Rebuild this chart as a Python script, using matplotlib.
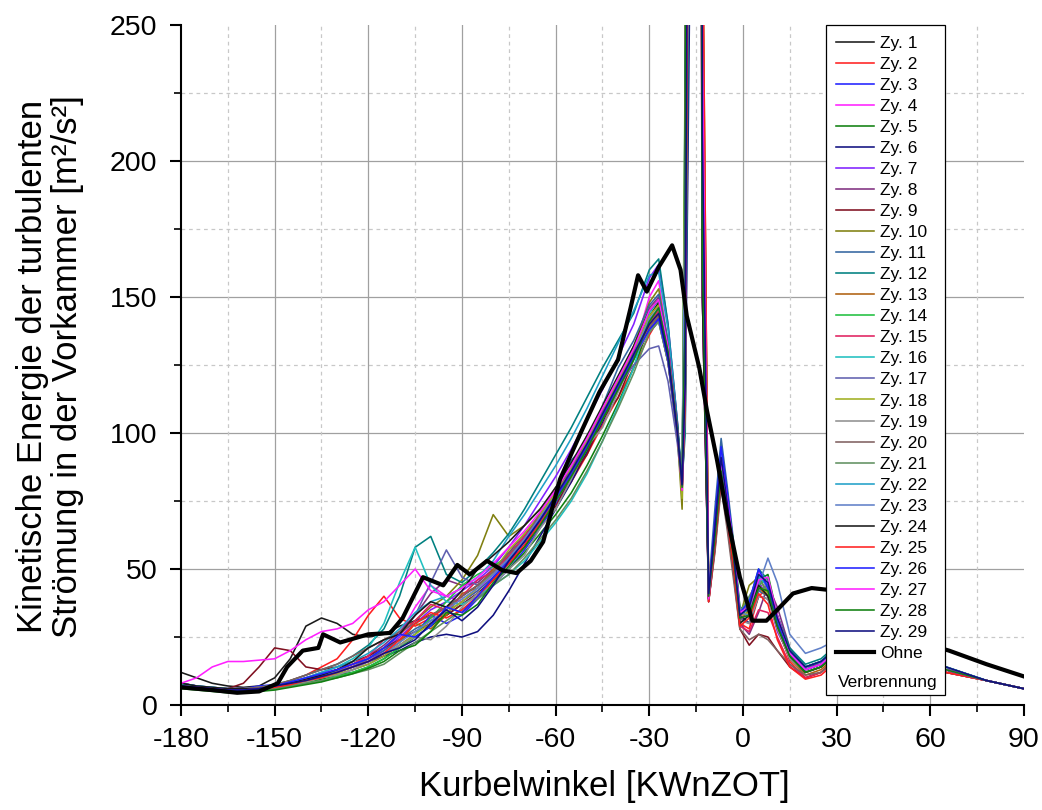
import matplotlib
matplotlib.use('Agg')
import matplotlib.pyplot as plt
from matplotlib.ticker import MultipleLocator
from matplotlib.patches import Rectangle

plt.rcParams['font.family'] = ['Liberation Sans', 'DejaVu Sans']
plt.rcParams['axes.unicode_minus'] = False

# crank angle grid shared by all cycles
kw = [-180, -175, -170, -165, -160, -155, -150, -145, -140, -135, -130,
      -125, -120, -115, -110, -105, -100, -95, -90, -85, -80,
      -75, -70, -65, -60, -55, -50, -45, -40, -35, -30,
      -27, -24, -21, -19.5, -18.5, -17, -14, -13,
      -11, -9, -7, -5, -3, -1, 2, 5, 8,
      11, 15, 20, 25, 30, 40, 50, 65, 78, 90]

zy01 = [12, 10, 8, 7, 6.5, 7, 10, 17, 29, 32, 30,  26, 25, 26, 29, 31, 33, 36, 40, 44, 49,  55, 62, 70, 78, 87, 97, 108, 119, 130, 143,  148, 131, 102, 80, 128, 1500, 1500, 150,  40, 60, 86, 70, 55, 33, 30, 45, 40,  28, 17, 12, 14, 19, 23, 19, 13, 9, 6]
zy02 = [7, 6, 6, 5.5, 5, 6, 7, 9, 11, 14, 17,  24, 33, 40, 32, 29, 32, 36, 34, 39, 46,  53, 58, 66, 74, 82, 92, 103, 113, 124, 136,  142, 128, 101, 80, 110, 400, 1200, 200,  38, 58, 85, 68, 52, 30, 28, 40, 43,  30, 16, 10, 12, 18, 22, 18, 12, 9, 6]
zy03 = [8, 7, 6, 6, 6, 7, 7.5, 8, 9, 10, 11,  13, 15, 18, 22, 26, 33, 30, 33, 39, 44,  50, 57, 65, 74, 83, 94, 106, 118, 129, 141,  146, 130, 100, 81, 200, 280, 600, 160,  40, 64, 90, 74, 58, 34, 36, 48, 44,  31, 19, 14, 16, 20, 24, 20, 13, 9, 6]
zy04 = [7, 6.5, 6, 6, 5.5, 6, 7, 8, 10, 12, 13,  15, 17, 20, 26, 36, 44, 40, 38, 42, 48,  54, 61, 69, 77, 86, 96, 107, 118, 130, 150,  156, 133, 101, 78, 120, 500, 1500, 260,  39, 60, 92, 76, 57, 31, 38, 49, 42,  30, 19, 13, 15, 20, 24, 20, 13, 9, 6]
zy05 = [6, 5.5, 5, 4.5, 4.5, 5, 6, 7, 8, 9.5, 11,  12, 14, 17, 21, 25, 29, 33, 37, 41, 46,  50, 56, 63, 70, 78, 88, 99, 111, 124, 139,  143, 127, 99, 80, 150, 1500, 800, 180,  41, 66, 92, 75, 56, 33, 37, 46, 48,  33, 20, 14, 16, 21, 25, 21, 13, 9, 6]
zy06 = [7, 6, 5.5, 5, 5, 5.5, 6.5, 7.5, 9, 10, 12,  14, 16, 18, 20, 23, 25, 26, 25, 27, 33,  42, 52, 62, 72, 82, 93, 104, 116, 128, 137,  141, 126, 98, 81, 105, 270, 1500, 230,  40, 64, 88, 73, 56, 33, 30, 40, 39,  29, 18, 13, 15, 19, 23, 19, 13, 9, 6]
zy07 = [8, 7, 6.5, 6, 6, 6.5, 7, 8, 10, 11, 12,  14, 16, 20, 25, 30, 35, 38, 42, 46, 51,  58, 66, 75, 84, 94, 105, 116, 128, 140, 157,  162, 140, 104, 79, 135, 1200, 500, 150,  40, 62, 87, 71, 54, 32, 33, 45, 40,  27, 18, 12, 14, 19, 23, 19, 13, 9, 6]
zy08 = [8, 7, 6, 6, 6, 6, 7, 8, 9, 11, 13,  15, 18, 22, 27, 33, 41, 46, 44, 45, 50,  56, 63, 70, 78, 87, 97, 108, 119, 131, 146,  150, 133, 103, 80, 230, 300, 1500, 280,  39, 58, 84, 67, 50, 30, 26, 34, 44,  36, 21, 14, 15, 19, 23, 19, 13, 9, 6]
zy09 = [7, 6, 6, 6, 8, 14, 21, 20, 14, 13, 14,  16, 18, 21, 24, 27, 30, 33, 37, 41, 46,  52, 58, 68, 73, 84, 92, 105, 113, 127, 138,  142, 126, 99, 80, 115, 450, 900, 170,  38, 57, 82, 66, 48, 28, 22, 26, 25,  20, 14, 10, 12, 17, 21, 18, 12, 9, 6]
zy10 = [7, 6, 5.5, 5, 5, 5.5, 6.5, 7.5, 9, 10.5, 12,  14, 17, 21, 26, 31, 36, 40, 46, 55, 70,  62, 66, 72, 79, 87, 97, 108, 120, 132, 148,  153, 133, 99, 72, 130, 1500, 1500, 240,  41, 63, 89, 72, 55, 33, 44, 47, 41,  30, 19, 13, 15, 20, 24, 20, 13, 9, 6]
zy11 = [7, 6.5, 6, 5.5, 5, 5.5, 6.5, 8, 9.5, 11, 13,  15, 17, 20, 24, 28, 31, 34, 38, 42, 47,  53, 62, 66, 78, 90, 96, 110, 124, 134, 147,  151, 134, 103, 81, 210, 290, 700, 190,  43, 72, 98, 80, 60, 36, 34, 42, 40,  31, 20, 14, 16, 21, 25, 21, 14, 9, 6]
zy12 = [8, 7, 6.5, 6, 6, 6.5, 7.5, 9, 11, 13, 15,  18, 22, 28, 40, 58, 62, 48, 45, 50, 56,  63, 72, 82, 92, 102, 113, 124, 134, 144, 160,  164, 140, 104, 82, 100, 320, 1500, 160,  42, 66, 92, 76, 58, 35, 38, 50, 46,  33, 21, 15, 17, 22, 26, 21, 14, 9, 6]
zy13 = [7, 6.5, 6, 5.5, 5.5, 6, 7, 8, 9.5, 11, 12.5,  14, 16, 19, 23, 30, 28, 33, 41, 43, 50,  54, 61, 69, 77, 86, 96, 107, 118, 129, 143,  147, 131, 102, 78, 155, 1500, 1000, 300,  39, 60, 86, 70, 53, 31, 35, 43, 40,  28, 17, 11, 13, 18, 22, 19, 13, 9, 6]
zy14 = [6.5, 6, 5.5, 5, 5, 5.5, 6, 7, 8, 9, 10.5,  12, 14, 17, 21, 26, 32, 38, 44, 48, 51,  55, 60, 67, 75, 84, 94, 105, 116, 127, 140,  145, 129, 100, 79, 240, 260, 1500, 210,  40, 65, 94, 77, 59, 36, 32, 44, 47,  32, 20, 14, 16, 21, 25, 21, 14, 9, 6]
zy15 = [7, 6.5, 6, 6, 6, 6.5, 7, 8, 9.5, 11, 13,  15, 18, 24, 26, 31, 37, 35, 40, 46, 49,  55, 62, 69, 77, 86, 96, 106, 117, 128, 141,  145, 129, 101, 80, 130, 800, 450, 150,  38, 58, 84, 68, 51, 29, 27, 35, 34,  25, 15, 10, 12, 17, 21, 18, 12, 9, 6]
zy16 = [7.5, 7, 6.5, 6, 6, 6.5, 7, 8.5, 10, 12, 14,  17, 21, 30, 45, 58, 44, 38, 37, 40, 44,  48, 53, 60, 67, 75, 85, 97, 110, 124, 144,  149, 132, 101, 80, 110, 400, 1500, 250,  40, 63, 88, 72, 55, 34, 39, 48, 43,  31, 19, 13, 15, 20, 24, 20, 13, 9, 6]
zy17 = [7, 6.5, 6, 5.5, 5.5, 6, 7, 8, 9.5, 11, 12.5,  14, 17, 21, 26, 33, 45, 57, 47, 44, 48,  54, 61, 69, 78, 88, 98, 108, 117, 125, 131,  132, 119, 96, 79, 140, 1500, 1200, 170,  39, 61, 86, 70, 53, 32, 30, 42, 44,  32, 19, 13, 15, 20, 24, 20, 13, 9, 6]
zy18 = [7, 6.5, 6, 5.5, 5.5, 6, 7, 8, 9, 10, 11.5,  13, 15, 18, 22, 26, 30, 34, 38, 43, 49,  57, 63, 70, 78, 87, 97, 108, 119, 130, 143,  147, 130, 100, 76, 225, 275, 800, 290,  40, 62, 88, 72, 55, 33, 34, 44, 41,  29, 18, 12, 14, 19, 23, 19, 13, 9, 6]
zy19 = [7, 6.5, 6, 5.5, 5, 5.5, 6, 7, 8.5, 10, 11,  13, 16, 19, 22, 25, 24, 29, 36, 41, 44,  50, 55, 65, 72, 83, 95, 102, 115, 128, 137,  141, 126, 99, 80, 135, 1100, 1500, 200,  39, 61, 86, 70, 53, 31, 30, 40, 39,  28, 17, 12, 14, 19, 23, 19, 13, 9, 6]
zy20 = [7, 6.5, 6, 6, 6, 6.5, 7.5, 9, 11, 13, 15,  18, 21, 24, 27, 30, 33, 36, 40, 44, 49,  56, 60, 71, 80, 86, 99, 108, 116, 130, 139,  143, 128, 100, 79, 108, 380, 600, 160,  38, 56, 80, 64, 46, 28, 24, 26, 24,  20, 15, 11, 12, 17, 21, 18, 12, 9, 6]
zy21 = [6.5, 6, 5.5, 5, 5, 5.5, 6, 7, 8, 9, 10,  11.5, 13, 15, 19, 23, 27, 31, 35, 39, 44,  48, 54, 61, 68, 76, 86, 97, 109, 122, 137,  141, 126, 99, 80, 150, 1500, 1500, 270,  40, 63, 89, 73, 56, 34, 40, 46, 42,  30, 19, 13, 15, 20, 24, 20, 13, 9, 6]
zy22 = [7, 6.5, 6, 5.5, 5.5, 6, 7, 8, 10, 12, 14,  16, 19, 23, 28, 34, 38, 40, 43, 47, 53,  62, 70, 79, 88, 98, 109, 121, 133, 145, 158,  159, 138, 103, 79, 118, 550, 1000, 180,  41, 64, 90, 74, 57, 34, 35, 47, 44,  31, 20, 14, 16, 21, 25, 21, 14, 9, 6]
zy23 = [7, 6.5, 6, 5.5, 5.5, 6, 7, 8, 9.5, 11, 12,  14, 16, 19, 23, 27, 31, 35, 39, 43, 48,  54, 61, 69, 77, 86, 96, 107, 118, 129, 142,  146, 130, 101, 80, 195, 300, 1500, 220,  41, 66, 93, 76, 57, 34, 33, 44, 54,  45, 26, 19, 21, 24, 27, 22, 14, 9, 6]
zy24 = [8, 7, 6.5, 6, 6, 6, 7, 8, 9.5, 11, 13,  16, 21, 24, 26, 33, 38, 36, 42, 50, 55,  60, 66, 72, 80, 89, 99, 110, 121, 132, 145,  149, 132, 102, 80, 140, 1300, 700, 150,  39, 60, 85, 69, 52, 30, 33, 44, 40,  29, 18, 12, 14, 19, 23, 19, 13, 9, 6]
zy25 = [7, 6.5, 6, 5.5, 5.5, 6, 6.5, 7.5, 9, 10, 12,  14, 16, 19, 24, 30, 34, 32, 35, 40, 46,  52, 59, 67, 76, 85, 95, 106, 117, 128, 140,  144, 128, 100, 79, 112, 420, 1500, 300,  38, 59, 84, 68, 51, 29, 32, 41, 37,  24, 14, 9.5, 11, 16, 21, 18, 12, 9, 6]
zy26 = [7, 6.5, 6, 5.5, 5.5, 6, 7, 8.5, 10, 11.5, 13,  15, 17, 21, 26, 25, 29, 36, 34, 40, 47,  53, 60, 68, 76, 85, 95, 106, 117, 128, 138,  142, 127, 100, 81, 132, 800, 1100, 190,  40, 68, 95, 78, 58, 34, 38, 50, 43,  30, 19, 13, 15, 20, 24, 20, 13, 9, 6]
zy27 = [8, 10, 14, 16, 16, 16.5, 17, 20, 24, 27, 28,  30, 35, 38, 44, 50, 42, 40, 43, 47, 52,  58, 64, 71, 79, 88, 98, 109, 120, 131, 145,  149, 132, 101, 79, 122, 650, 1500, 240,  39, 62, 90, 75, 58, 34, 36, 46, 47,  33, 19, 13, 15, 20, 24, 20, 13, 9, 6]
zy28 = [7, 6, 5.5, 5, 5, 5, 5.5, 6.5, 7.5, 8.5, 10,  11.5, 13.5, 16, 20, 22, 27, 34, 33, 37, 45,  51, 58, 66, 75, 84, 94, 105, 116, 127, 141,  146, 130, 101, 80, 145, 1500, 500, 165,  40, 61, 86, 70, 54, 32, 33, 43, 42,  29, 18, 12, 14, 19, 23, 19, 13, 9, 6]
zy29 = [7, 6.5, 6, 5.5, 5.5, 6, 7, 8, 9, 10.5, 12,  14, 16, 19, 21, 24, 30, 35, 31, 36, 44,  53, 60, 68, 77, 86, 96, 107, 118, 129, 140,  144, 128, 100, 81, 118, 500, 1300, 210,  41, 65, 91, 74, 56, 33, 36, 48, 45,  32, 20, 14, 16, 21, 25, 21, 14, 9, 6]

cycles = [zy01, zy02, zy03, zy04, zy05, zy06, zy07, zy08, zy09, zy10,
          zy11, zy12, zy13, zy14, zy15, zy16, zy17, zy18, zy19, zy20,
          zy21, zy22, zy23, zy24, zy25, zy26, zy27, zy28, zy29]
labels = ['Zy. %d' % i for i in range(1, 30)]
colors = ['#1a1a1a', '#ff2020', '#2020ff', '#ff20ff', '#108010', '#101080',
          '#8020ff', '#803080', '#801020', '#808010', '#3366a0', '#008080',
          '#b06010', '#20c040', '#e0205f', '#20c0c0', '#6060b0', '#a0b020',
          '#909090', '#806060', '#609060', '#20a0c8', '#6080c8', '#1a1a1a',
          '#ff2020', '#2020ff', '#ff20ff', '#108010', '#101080']

# motored (no combustion) reference curve
ohne_kw = [-180, -170, -162, -155, -149, -146, -141, -136, -134.5, -129,
           -120, -113, -109, -102.5, -96, -91.5, -87.5, -82, -77, -72.5,
           -68, -64, -58.6, -52, -46, -40, -36, -33.6, -30.8, -27,
           -22.7, -20, -18, -14, -11.5, -8.3, -5, -1, 3, 7.5,
           11, 16, 22, 30, 40, 50, 60, 66, 78, 90]
ohne_val = [6.5, 5.5, 4.5, 5, 8, 14, 20, 21, 26, 23,
            26, 26.5, 32, 47, 44, 51.5, 48, 53, 49.5, 48.5,
            53, 60, 83, 100, 115, 127, 146, 158, 152, 161,
            169, 160, 143, 124, 108, 90, 69, 47, 31, 31,
            35, 41, 43, 42, 36, 28, 22, 20, 15, 10.5]

xticks = [-180, -150, -120, -90, -60, -30, 0, 30, 60, 90]
yticks = [0, 50, 100, 150, 200, 250]

fig = plt.figure(figsize=(10.42, 8.10), dpi=100)
ax = fig.add_axes([0.1737, 0.1296, 0.809, 0.8395])

# grid (drawn manually so that the limits carry no grid line)
for v in [50, 100, 150, 200]:
    ax.axhline(v, color='#a0a0a0', lw=0.9, zorder=0.5)
for v in [25, 75, 125, 175, 225]:
    ax.axhline(v, color='#c8c8c8', lw=0.9, ls=(0, (3, 3)), zorder=0.5)
for v in [-150, -120, -90, -60, -30, 0, 30, 60]:
    ax.axvline(v, color='#a0a0a0', lw=0.9, zorder=0.5)
for v in [-165, -135, -105, -75, -45, -15, 15, 45, 75]:
    ax.axvline(v, color='#c8c8c8', lw=0.9, ls=(0, (3, 3)), zorder=0.5)

handles = []
for y, c, l in zip(cycles, colors, labels):
    h, = ax.plot(kw, y, color=c, lw=1.15, label=l, zorder=2)
    handles.append(h)
h, = ax.plot(ohne_kw, ohne_val, color='black', lw=3.0, label='Ohne', zorder=3)
handles.append(h)

ax.set_xlim(-180, 90)
ax.set_ylim(0, 250)
ax.set_xticks(xticks)
ax.set_yticks(yticks)
ax.xaxis.set_minor_locator(MultipleLocator(15))
ax.yaxis.set_minor_locator(MultipleLocator(25))
for s in ['top', 'right']:
    ax.spines[s].set_visible(False)
for s in ['left', 'bottom']:
    ax.spines[s].set_linewidth(1.5)
ax.tick_params(which='major', direction='out', length=8, width=1.5, labelsize=20.5)
ax.tick_params(which='minor', direction='out', length=5, width=1.2)
ax.tick_params(axis='x', which='major', pad=8)
ax.tick_params(axis='y', which='major', pad=9)

# legend box
rect = Rectangle((0.765, 0.0147), 0.141, 0.9853, transform=ax.transAxes,
                 facecolor='white', edgecolor='black', lw=0.9, zorder=4,
                 clip_on=False)
ax.add_patch(rect)
leg = ax.legend(handles=handles, loc='upper left', bbox_to_anchor=(0.765, 1.0),
                borderaxespad=0, borderpad=0.6, frameon=False, fontsize=12.5,
                handlelength=2.2, handletextpad=0.3, labelspacing=0.34)
leg.set_zorder(5)
ax.text(0.7794, 0.0324, 'Verbrennung', transform=ax.transAxes, fontsize=12.5,
        ha='left', va='center', zorder=6)

fig.text(0.5797, 0.0284, 'Kurbelwinkel [KWnZOT]', fontsize=25,
         ha='center', va='center')
fig.text(50 / 1042, 0.547,
         'Kinetische Energie der turbulenten\nStrömung in der Vorkammer [m²/s²]',
         fontsize=25, rotation=90, ha='center', va='center',
         multialignment='center', linespacing=1.1)

fig.savefig('out.png', dpi=100)
